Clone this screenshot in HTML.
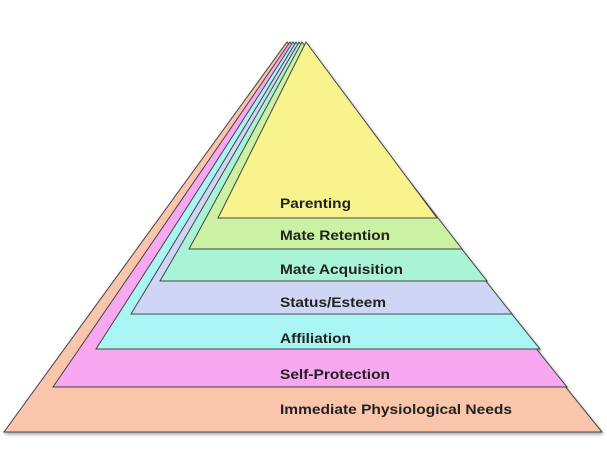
<!DOCTYPE html>
<html><head><style>body{margin:0;background:#fff}</style></head><body>
<svg width="607" height="454" viewBox="0 0 607 454" xmlns="http://www.w3.org/2000/svg">
<defs><filter id="s" x="-5%" y="-5%" width="110%" height="115%"><feDropShadow dx="1" dy="2" stdDeviation="1.5" flood-color="#000" flood-opacity="0.35"/></filter></defs>
<g stroke="#444" stroke-width="1" filter="url(#s)">
<polygon points="287,42 602,432 4,432" fill="#f9c6ab"/>
<polygon points="290,42 567,387 53,387" fill="#f7a8f1"/>
<polygon points="293,42 540,349 96,349" fill="#a9f5f3"/>
<polygon points="296,42 512,314 131,314" fill="#cfd6f5"/>
<polygon points="299,42 487,281 160,281" fill="#aaf3d6"/>
<polygon points="302,42 462,249 189,249" fill="#cbf1a3"/>
<polygon points="306,42 437,218 218,218" fill="#f8f38d"/>
</g>
<g font-family="Liberation Sans, sans-serif" font-weight="bold" font-size="14" fill="#222" lengthAdjust="spacingAndGlyphs">
<text x="280" y="208" textLength="71" lengthAdjust="spacingAndGlyphs">Parenting</text>
<text x="280" y="240" textLength="110" lengthAdjust="spacingAndGlyphs">Mate Retention</text>
<text x="280" y="274" textLength="123" lengthAdjust="spacingAndGlyphs">Mate Acquisition</text>
<text x="280" y="307" textLength="106" lengthAdjust="spacingAndGlyphs">Status/Esteem</text>
<text x="280" y="343" textLength="71" lengthAdjust="spacingAndGlyphs">Affiliation</text>
<text x="280" y="379" textLength="110" lengthAdjust="spacingAndGlyphs">Self-Protection</text>
<text x="280" y="414" textLength="232" lengthAdjust="spacingAndGlyphs">Immediate Physiological Needs</text>
</g>
</svg>
</body></html>
